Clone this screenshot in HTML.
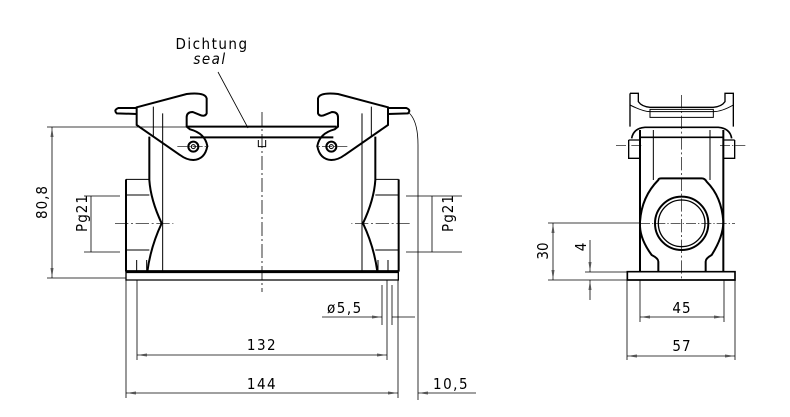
<!DOCTYPE html><html><head><style>body{margin:0;background:#fff}svg{display:block}text{font-family:"DejaVu Sans Condensed","Liberation Sans Narrow","Liberation Sans",sans-serif;fill:#000}</style></head><body>
<svg width="790" height="417" viewBox="0 0 790 417" xmlns="http://www.w3.org/2000/svg">
<defs><marker id="a" markerWidth="10" markerHeight="6" refX="10" refY="3" orient="auto-start-reverse" markerUnits="userSpaceOnUse"><path d="M0,1.5 L10,3 L0,4.5 Z" fill="#555"/></marker></defs>
<g fill="none" stroke="#000">
<g transform="translate(90,80) scale(0.33333)" stroke-width="6">
 <g id="lat">
  <path d="M140,82 L290,42 Q345,36 350,55 L350,100 Q345,112 328,104 L308,96 Q290,96 290,112 L290,140 L300,148 Q345,160 352,198 Q345,238 310,240 Q290,240 270,225 L140,135 Z"/>
  <path d="M140,84 L85,84 Q70,90 80,100 L140,102"/>
  <path d="M190,80 L190,170 M218,100 L218,180" stroke-width="3"/>
  <circle cx="310" cy="200" r="15"/><circle cx="310" cy="200" r="6" stroke-width="3"/>
  <path d="M262,200 L355,200" stroke-width="2" stroke-dasharray="30,6,4,6"/>
  <path d="M178,170 L178,300 Q182,360 215,430 Q182,500 172,575" />
  <path d="M218,180 L218,575" stroke-width="3"/>
  <path d="M108,298 L178,298 M108,345 L178,345 M108,510 L178,510 M140,540 L140,575 M170,540 L170,575" stroke-width="3"/>
  <path d="M108,298 L108,575" />
  <path d="M75,430 L250,430" stroke-width="2" stroke-dasharray="40,8,6,8"/>
 </g>
 <use href="#lat" transform="translate(1034,0) scale(-1,1)"/>
 <path d="M290,140 L740,140 M300,172 L730,172"/>
 <path d="M505,180 L505,200 L527,200 L527,180" stroke-width="3"/>
 <path d="M108,575 L925,575" stroke-width="9"/>
 <path d="M108,575 L108,600 L925,600 L925,575" stroke-width="4"/>
</g>
<path d="M262,112 L262,292" stroke-width="0.8" stroke-dasharray="14,3,2,3"/>
<path d="M218,72 L248,128" stroke-width="0.8"/>
<path d="M408,112 Q418,120 418,145 L418,400" stroke-width="0.8"/>
<g stroke-width="0.8">
<path d="M47,127 L190,127 M47,278 L126,278"/>
<path d="M52,127 L52,278" marker-start="url(#a)" marker-end="url(#a)"/>
<path d="M84,196 L120,196 M84,252 L120,252 M91,196 L91,252"/>
<path d="M406,196 L462,196 M406,252 L462,252 M432,196 L432,252"/>
<path d="M126,280 L126,398 M137,280 L137,360 M387,280 L387,360 M398,280 L398,398 M382,285 L382,325 M392,285 L392,325"/>
<path d="M322,317 L382,317" marker-end="url(#a)"/><path d="M392,317 L415,317"/>
<path d="M137,355 L387,355" marker-start="url(#a)" marker-end="url(#a)"/>
<path d="M126,393 L398,393" marker-start="url(#a)" marker-end="url(#a)"/>
<path d="M418,393 L476,393" marker-start="url(#a)"/>
</g>
<g transform="translate(530,80) scale(0.33333)" stroke-width="6">
 <path d="M330,150 L330,575 M580,150 L580,575"/>
 <path d="M370,150 L370,300 M540,150 L540,300" stroke-width="3"/>
 <path d="M330,425 Q335,350 385,300 Q385,295 395,295 L515,295 Q525,295 530,305 Q575,350 580,425 Q580,470 545,525 Q527,535 527,545 L527,575 M330,440 Q332,480 365,525 Q385,535 385,545 L385,575"/>
 <circle cx="455" cy="430" r="80"/><circle cx="455" cy="430" r="70" stroke-width="4"/>
 <path d="M300,40 L325,40 L325,65 Q335,80 360,82 L550,82 Q575,80 585,65 L585,40 L610,40 L610,140 M300,40 L300,140" stroke-width="4"/>
 <path d="M300,75 Q340,95 360,95 L550,95 Q575,95 610,75" stroke-width="3"/>
 <path d="M360,88 L550,88 L550,112 L360,112 Z" stroke-width="3"/>
 <path d="M305,175 Q310,145 345,142 L565,142 Q600,145 605,175 M330,172 L580,172" stroke-width="5"/>
 <path d="M296,180 L296,235 L330,235 M614,180 L614,235 L580,235 M296,180 L330,180 M614,180 L580,180" stroke-width="4"/>
 <path d="M292,575 L615,575 L615,600 L292,600 Z" stroke-width="5"/>
 <path d="M258,197 L340,197 M570,197 L650,197 M330,430 L615,430" stroke-width="2" stroke-dasharray="30,6,4,6"/>
 <path d="M455,45 L455,600" stroke-width="2" stroke-dasharray="40,8,6,8"/>
</g>
<g stroke-width="0.8">
<path d="M548,223 L640,223 M548,280 L627,280 M585,272 L640,272"/>
<path d="M553,223 L553,280" marker-start="url(#a)" marker-end="url(#a)"/>
<path d="M590,240 L590,272" marker-end="url(#a)"/><path d="M590,300 L590,280" marker-end="url(#a)"/>
<path d="M627,280 L627,360 M640,280 L640,322 M724,280 L724,322 M735,280 L735,360"/>
<path d="M640,317 L724,317" marker-start="url(#a)" marker-end="url(#a)"/>
<path d="M627,356 L735,356" marker-start="url(#a)" marker-end="url(#a)"/>
</g>
</g>
<g font-size="15">
<text x="212" y="49" text-anchor="middle" letter-spacing="1.5">Dichtung</text>
<text x="210" y="64" text-anchor="middle" font-style="italic" letter-spacing="1.5">seal</text>
<text transform="translate(47,202) rotate(-90)" text-anchor="middle" letter-spacing="1">80,8</text>
<text transform="translate(87,213) rotate(-90)" text-anchor="middle" letter-spacing="1">Pg21</text>
<text transform="translate(453,213) rotate(-90)" text-anchor="middle" letter-spacing="1">Pg21</text>
<text x="327" y="313" letter-spacing="1.5">ø5,5</text>
<text x="262" y="350" text-anchor="middle" letter-spacing="1.5">132</text>
<text x="262" y="389" text-anchor="middle" letter-spacing="1.5">144</text>
<text x="433" y="389" letter-spacing="1.5">10,5</text>
<text transform="translate(548,251) rotate(-90)" text-anchor="middle">30</text>
<text transform="translate(586,247) rotate(-90)" text-anchor="middle">4</text>
<text x="682" y="313" text-anchor="middle" letter-spacing="1">45</text>
<text x="682" y="351" text-anchor="middle" letter-spacing="1">57</text>
</g>
</svg></body></html>
